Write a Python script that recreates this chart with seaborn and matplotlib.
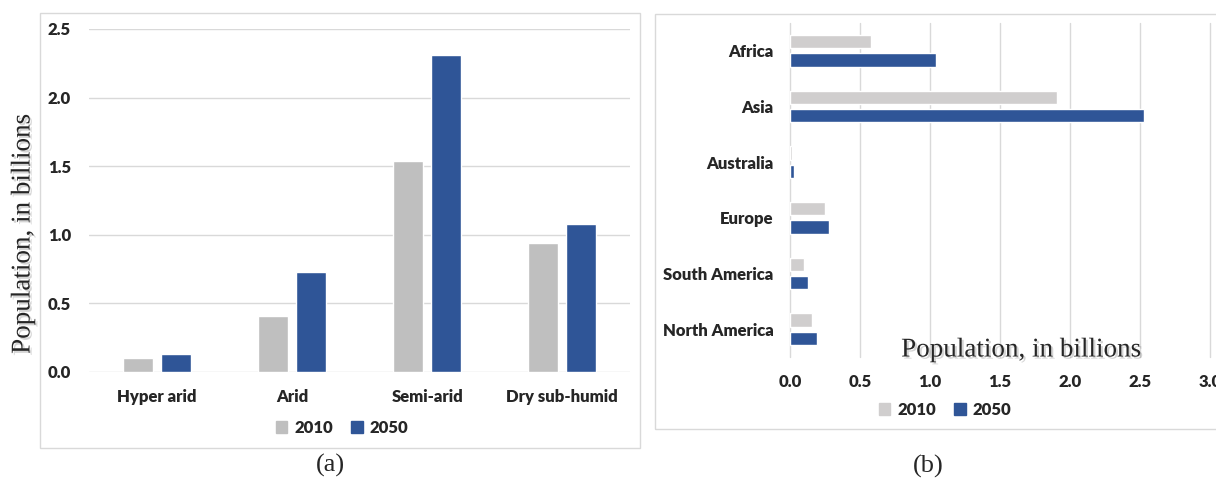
import numpy as np
import pandas as pd
import matplotlib.pyplot as plt
import matplotlib.patheffects as pe
from matplotlib.patches import Rectangle, Patch
import seaborn as sns

# panel (a): population in drylands by zone
zones = ['Hyper arid', 'Arid', 'Semi-arid', 'Dry sub-humid']
zone_2010 = [0.10, 0.41, 1.54, 0.94]
zone_2050 = [0.13, 0.73, 2.31, 1.08]

# panel (b): population in drylands by region
regions = ['Africa', 'Asia', 'Australia', 'Europe', 'South America', 'North America']
region_2010 = [0.575, 1.905, 0.015, 0.25, 0.10, 0.155]
region_2050 = [1.04, 2.53, 0.03, 0.28, 0.13, 0.195]

years = ['2010', '2050']

df_a = pd.DataFrame({
    'zone': zones * 2,
    'pop': zone_2010 + zone_2050,
    'year': [years[0]] * len(zones) + [years[1]] * len(zones),
})
df_b = pd.DataFrame({
    'region': regions * 2,
    'pop': region_2010 + region_2050,
    'year': [years[0]] * len(regions) + [years[1]] * len(regions),
})

sns.set_theme(style='white')
plt.rcParams['font.family'] = ['Lato', 'DejaVu Sans']

W, H = 1216, 479
fig = plt.figure(figsize=(W / 100, H / 100), dpi=100)

grid_c = '#d9d9d9'
blue = '#2f5597'
gray_a = '#bfbfbf'
gray_b = '#d0cece'
serif = ['Liberation Serif', 'DejaVu Serif']
shadow = [pe.withSimplePatchShadow(offset=(1.5, -1.5), shadow_rgbFace='#888888', alpha=0.35)]
lab = {'weight': 'heavy', 'size': 12}

# panel boxes
fig.patches.append(Rectangle((40 / W, 1 - 448 / H), 600 / W, 435 / H, transform=fig.transFigure,
                             fill=False, edgecolor=grid_c, linewidth=1))
fig.patches.append(Rectangle((655 / W, 1 - 429 / H), 600 / W, 415 / H, transform=fig.transFigure,
                             fill=False, edgecolor=grid_c, linewidth=1))

# ---- panel (a)
ax1 = fig.add_axes([89 / W, 1 - 372 / H, (630 - 89) / W, (372 - 29) / H])
sns.barplot(data=df_a, x='zone', y='pop', hue='year', palette=[gray_a, blue], saturation=1,
            width=0.56, gap=0.21, ax=ax1, legend=False)
ax1.set_ylim(0, 2.5)
ax1.set_xlim(-0.5, 3.5)
ax1.set_yticks(np.arange(0, 2.51, 0.5))
ax1.set_yticklabels([f'{v:.1f}' for v in np.arange(0, 2.51, 0.5)])
ax1.yaxis.grid(True, color=grid_c, linewidth=1)
ax1.set_axisbelow(True)
for s in ax1.spines.values():
    s.set_visible(False)
ax1.tick_params(axis='y', length=0, pad=13)
ax1.tick_params(axis='x', length=0, pad=12)
for t in ax1.get_xticklabels() + ax1.get_yticklabels():
    t.set_fontweight(lab['weight'])
    t.set_fontsize(lab['size'])
ax1.set_xlabel('')
ax1.set_ylabel('')
fig.text(23 / W, 1 - 234 / H, 'Population, in billions', rotation=90, ha='center', va='center',
         family=serif, fontsize=19.5, path_effects=shadow)
ax1.legend(handles=[Patch(color=gray_a, label='2010'), Patch(color=blue, label='2050')],
           loc='center', bbox_to_anchor=(342 / W, 1 - 428 / H), bbox_transform=fig.transFigure,
           ncol=2, frameon=False, handlelength=0.7, handleheight=0.7, handletextpad=0.4,
           columnspacing=1.1, prop=lab)
fig.text(330 / W, 1 - 465 / H, '(a)', ha='center', va='center', family=serif, fontsize=19)

# ---- panel (b)
ax2 = fig.add_axes([790 / W, 1 - 357 / H, (1210 - 790) / W, (357 - 23) / H])
sns.barplot(data=df_b, x='pop', y='region', hue='year', orient='h', palette=[gray_b, blue],
            saturation=1, width=0.664, gap=0.27, ax=ax2, legend=False)
ax2.set_xlim(0, 3.0)
ax2.set_ylim(5.5, -0.5)
ax2.set_xticks(np.arange(0, 3.01, 0.5))
ax2.set_xticklabels([f'{v:.1f}' for v in np.arange(0, 3.01, 0.5)])
ax2.xaxis.grid(True, color=grid_c, linewidth=1, clip_on=False)
ax2.set_axisbelow(True)
for s in ax2.spines.values():
    s.set_visible(False)
ax2.tick_params(axis='y', length=0, pad=12)
ax2.tick_params(axis='x', length=0, pad=12)
for t in ax2.get_xticklabels() + ax2.get_yticklabels():
    t.set_fontweight(lab['weight'])
    t.set_fontsize(lab['size'])
ax2.set_xlabel('')
ax2.set_ylabel('')
fig.text(1021 / W, 1 - 350 / H, 'Population, in billions', ha='center', va='center',
         family=serif, fontsize=19.5, path_effects=shadow)
ax2.legend(handles=[Patch(color=gray_b, label='2010'), Patch(color=blue, label='2050')],
           loc='center', bbox_to_anchor=(945 / W, 1 - 410 / H), bbox_transform=fig.transFigure,
           ncol=2, frameon=False, handlelength=0.7, handleheight=0.7, handletextpad=0.4,
           columnspacing=1.1, prop=lab)
fig.text(928 / W, 1 - 466 / H, '(b)', ha='center', va='center', family=serif, fontsize=19)

fig.savefig('out.png', dpi=100)
